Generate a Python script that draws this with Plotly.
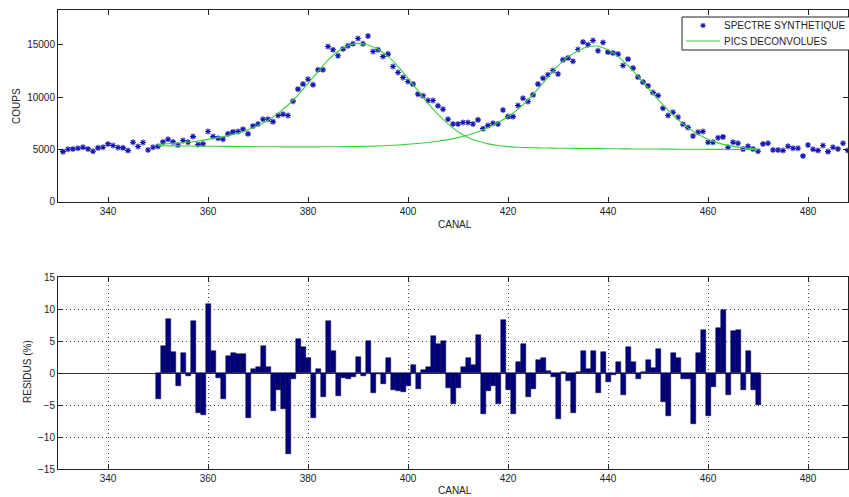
import plotly.graph_objects as go

# ---------------- data ----------------
canal_spectre = list(range(331, 489))
spectre = [
    4790, 5020, 5050, 5115, 5210, 5050, 4830, 5150, 5210, 5530,   # 331-340
    5370, 5180, 5150, 4890, 5690, 5280, 5660, 4950, 5210, 5280,   # 341-350
    5720, 5980, 5720, 5430, 5850, 5690, 6230, 5470, 5530, 6710,   # 351-360
    6230, 6070, 5980, 6490, 6680, 6710, 6940, 6490, 7250, 7440,   # 361-370
    7890, 7890, 7660, 8240, 8370, 8240, 9620, 10770, 11250, 11720,  # 371-380
    11180, 12620, 12620, 14850, 14530, 13960, 14600, 14920, 15110, 15620,  # 381-390
    15110, 15850, 14370, 14530, 13890, 14120, 12930, 12360, 11880, 11500,  # 391-400
    11250, 10290, 10130, 9680, 9680, 9170, 8850, 7890, 7440, 7440,  # 401-410
    7570, 7570, 7440, 7830, 6990, 7280, 7510, 7440, 8780, 8140,   # 411-420
    8140, 9200, 9900, 9580, 10220, 11250, 11820, 12140, 12550, 12210,  # 421-430
    13570, 13740, 13440, 14560, 15270, 15010, 15420, 14440, 15230, 14310,  # 431-440
    14220, 14120, 13030, 13640, 12780, 11920, 11440, 11080, 10440, 10150,  # 441-450
    8950, 8240, 8560, 8080, 7410, 7090, 6290, 6650, 6710, 5690,   # 451-460
    5690, 6120, 6200, 5210, 5690, 5590, 5030, 5300, 5050, 4820,   # 461-470
    5530, 5590, 4950, 4950, 4890, 5300, 5110, 5110, 4380, 5430,   # 471-480
    5020, 4890, 5370, 4790, 5210, 5050, 5590, 4890,               # 481-488
]

canal_pics = list(range(350, 471, 2))
pic1 = [
    5500, 5540, 5600, 5690, 5810, 5960, 6130, 6320, 6560, 6880,   # 350-368
    7300, 7800, 8450, 9250, 10200, 11300, 12450, 13550, 14400, 14950,  # 370-388
    15150, 15000, 14580, 13900, 12950, 11800, 10600, 9400, 8350, 7450,  # 390-408
    6700, 6150, 5780, 5530, 5370, 5270, 5210, 5170, 5150, 5135,   # 410-428
    5120, 5110, 5100, 5090, 5080, 5070, 5060, 5050, 5045, 5040,   # 430-448
    5035, 5030, 5025, 5020, 5015, 5010, 5005, 5000, 4995, 4990,   # 450-468
    4985,                                                         # 470
]
pic2 = [
    5360, 5350, 5340, 5330, 5320, 5310, 5300, 5290, 5280, 5270,   # 350-368
    5262, 5255, 5250, 5247, 5245, 5245, 5248, 5253, 5260, 5270,   # 370-388
    5285, 5305, 5335, 5375, 5425, 5490, 5570, 5670, 5790, 5940,   # 390-408
    6130, 6380, 6700, 7100, 7580, 8150, 8850, 9750, 10800, 11900,  # 410-428
    13000, 13850, 14450, 14820, 14880, 14520, 13900, 13020, 12000, 10900,  # 430-448
    9790, 8760, 7850, 7060, 6460, 5980, 5630, 5390, 5220, 5110,   # 450-468
    5040,                                                         # 470
]

canal_residus = list(range(350, 471))
residus = [
    -4.0, 4.2, 8.5, 3.3, -2.0, 3.2, -0.5, 8.1, -6.3, -6.5,        # 350-359
    10.8, 3.5, -0.8, -4.0, 2.6, 3.1, 3.0, 3.0, -7.1, 0.7,         # 360-369
    1.0, 4.2, 1.0, -5.9, -2.7, -5.6, -12.7, -0.9, 5.3, 4.0,       # 370-379
    2.4, -7.1, 0.6, -3.75, 8.2, 3.5, -3.6, -0.8, -0.9, -0.7,      # 380-389
    2.5, -0.5, 5.0, -3.2, -0.2, -1.7, 2.3, -2.7, -2.8, -2.9,      # 390-399
    -2.0, 1.25, -2.55, 0.4, 1.0, 5.8, 4.6, 5.0, -2.4, -4.9,       # 400-409
    -2.3, 1.0, 2.4, 1.25, 6.0, -6.45, -2.8, -2.0, -4.9, 8.3,      # 410-419
    -2.7, -6.4, 1.7, 4.6, -3.75, -2.5, 2.0, 2.4, 0.3, -0.6,       # 420-429
    -7.2, 0.1, -1.25, -6.2, 0.1, 3.5, 0.7, 3.5, -3.1, 3.3,        # 430-439
    -1.4, -0.3, 1.7, -3.4, 4.1, 1.7, -1.0, 0.2, 2.0, 0.8,         # 440-449
    3.8, -4.5, -6.7, 3.2, 2.4, -1.0, -1.0, -8.0, 3.1, 6.7,        # 450-459
    -6.7, -2.2, 7.1, 9.8, -3.4, 6.5, 6.7, -2.6, 3.5, -2.6,        # 460-469
    -5.0,                                                         # 470
]

x_ticks = [340, 360, 380, 400, 420, 440, 460, 480]
y_ticks_top = [0, 5000, 10000, 15000]
y_ticks_bottom = [-15, -10, -5, 0, 5, 10, 15]
legend_labels = ["SPECTRE SYNTHETIQUE", "PICS DECONVOLUES"]

# ---------------- figure ----------------
FONT = "Liberation Sans, Arial, sans-serif"
GREEN = "#3ccf3c"
BLUE = "#1414b0"
NAVY = "#00007f"
INK = "#222"

fig = go.Figure()

fig.add_trace(go.Scatter(
    x=canal_spectre, y=spectre, mode="markers", name=legend_labels[0],
    marker=dict(symbol="asterisk-open", size=5, color=BLUE,
                line=dict(color=BLUE, width=1.1)),
    xaxis="x", yaxis="y"))
fig.add_trace(go.Scatter(
    x=canal_pics, y=pic1, mode="lines", name=legend_labels[1],
    line=dict(color=GREEN, width=1.1, shape="spline"),
    xaxis="x", yaxis="y"))
fig.add_trace(go.Scatter(
    x=canal_pics, y=pic2, mode="lines", name=legend_labels[1],
    line=dict(color=GREEN, width=1.1, shape="spline"),
    xaxis="x", yaxis="y"))

fig.add_trace(go.Bar(
    x=canal_residus, y=residus, width=1.0,
    marker=dict(color=NAVY, line=dict(color="#000030", width=0.5)),
    xaxis="x2", yaxis="y2"))

axis_common = dict(
    showline=True, linecolor=INK, linewidth=1, mirror="ticks",
    ticks="inside", ticklen=5, tickcolor=INK, tickwidth=1,
    tickfont=dict(family=FONT, size=10, color=INK),
)

top_dom = [(469 - 201.7) / 459, 1.0]
bot_dom = [0.0, (468.7 - 276.7) / 459]

fig.update_layout(
    width=849, height=497,
    margin=dict(l=58, r=1, t=10, b=28),
    paper_bgcolor="white", plot_bgcolor="white",
    font=dict(family=FONT, size=10, color=INK),
    bargap=0,
    showlegend=False,
    xaxis=dict(domain=[0, 1], range=[330, 488], tickvals=x_ticks,
               showgrid=False, zeroline=False, anchor="y", **axis_common),
    yaxis=dict(domain=top_dom, range=[0, 18340], tickvals=y_ticks_top,
               tickformat="d",
               showgrid=False, zeroline=False, anchor="x", **axis_common),
    xaxis2=dict(domain=[0, 1], range=[330, 488], tickvals=x_ticks,
                showgrid=True, gridcolor="#444", griddash="1px,3px", gridwidth=1,
                zeroline=False, anchor="y2", **axis_common),
    yaxis2=dict(domain=bot_dom, range=[-15, 15], tickvals=y_ticks_bottom,
                showgrid=True, gridcolor="#444", griddash="1px,3px", gridwidth=1,
                zeroline=True, zerolinecolor="#333", zerolinewidth=1,
                anchor="x2", **axis_common),
)


def px(xp):
    return (xp - 58) / 790


def py(yp):
    return (469 - yp) / 459


ann_font = dict(family=FONT, size=10, color=INK)
fig.add_annotation(text="CANAL", xref="paper", yref="paper",
                   x=px(455), y=py(224), xanchor="center", yanchor="middle",
                   showarrow=False, font=ann_font)
fig.add_annotation(text="CANAL", xref="paper", yref="paper",
                   x=px(455), y=py(490), xanchor="center", yanchor="middle",
                   showarrow=False, font=ann_font)
fig.add_annotation(text="COUPS", xref="paper", yref="paper",
                   x=px(16), y=py(106), textangle=-90,
                   xanchor="center", yanchor="middle",
                   showarrow=False, font=ann_font)
fig.add_annotation(text="RESIDUS (%)", xref="paper", yref="paper",
                   x=px(28), y=py(372), textangle=-90,
                   xanchor="center", yanchor="middle",
                   showarrow=False, font=ann_font)

# ---- legend box (drawn by hand to match the compact MATLAB legend) ----
fig.add_shape(type="rect", xref="paper", yref="paper",
              x0=px(682), x1=px(853), y0=py(50), y1=py(17),
              line=dict(color=INK, width=1), fillcolor="white", layer="above")
# asterisk glyph
cx, cy, r = 703, 25.5, 2.6
for dx, dy in [(r, 0), (0, r), (r * 0.7, r * 0.7), (r * 0.7, -r * 0.7)]:
    fig.add_shape(type="line", xref="paper", yref="paper",
                  x0=px(cx - dx), x1=px(cx + dx), y0=py(cy - dy), y1=py(cy + dy),
                  line=dict(color=BLUE, width=1.1), layer="above")
fig.add_shape(type="line", xref="paper", yref="paper",
              x0=px(686), x1=px(720), y0=py(41), y1=py(41),
              line=dict(color=GREEN, width=1.1), layer="above")
fig.add_annotation(text=legend_labels[0], xref="paper", yref="paper",
                   x=px(722), y=py(25.5), xanchor="left", yanchor="middle",
                   showarrow=False, font=ann_font)
fig.add_annotation(text=legend_labels[1], xref="paper", yref="paper",
                   x=px(722), y=py(41), xanchor="left", yanchor="middle",
                   showarrow=False, font=ann_font)

fig.write_html("out.html")
